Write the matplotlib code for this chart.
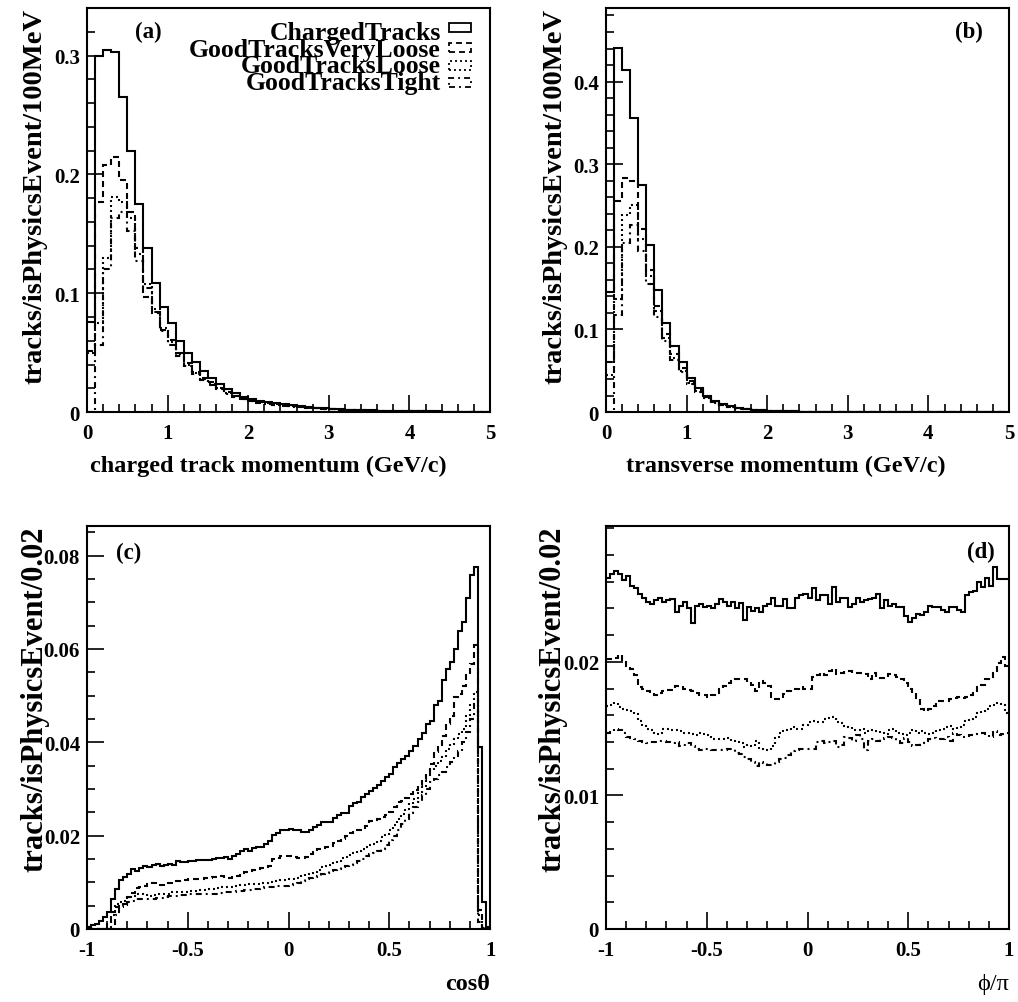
import numpy as np
import matplotlib.pyplot as plt
from matplotlib.patches import Rectangle
from matplotlib.ticker import MultipleLocator, FixedLocator, FuncFormatter

plt.rcParams['font.family'] = ['Liberation Serif', 'DejaVu Serif']
plt.rcParams['font.weight'] = 'bold'
plt.rcParams['lines.scale_dashes'] = False

# ---- data ----
names = ['ChargedTracks', 'GoodTracksVeryLoose', 'GoodTracksLoose', 'GoodTracksTight']

# (a) momentum, 50 bins of 100 MeV in 0..5 GeV/c
a_charged = [0.076, 0.300, 0.305, 0.303, 0.265, 0.220, 0.175, 0.138, 0.109, 0.088,
             0.075, 0.060, 0.0496, 0.0417, 0.0347, 0.029, 0.024, 0.019, 0.0157, 0.0129,
             0.0109, 0.0095, 0.0081, 0.0073, 0.0064, 0.0056, 0.0048, 0.0042, 0.0036, 0.0031,
             0.0027, 0.0023, 0.0020, 0.0017, 0.0015, 0.0013, 0.0011, 0.0010, 0.0009, 0.0008,
             0.0007, 0.0006, 0.0005, 0.0005, 0.0004, 0.0004, 0.0003, 0.0003, 0.0003, 0.0002]
a_vloose = [0.0515, 0.177, 0.208, 0.2145, 0.195, 0.168, 0.138, 0.097, 0.083, 0.069,
            0.061, 0.050, 0.0415, 0.034, 0.029, 0.025, 0.0205, 0.0165, 0.0138, 0.0113,
            0.0096, 0.0084, 0.0072, 0.0064, 0.0056, 0.0049, 0.0042, 0.0037, 0.0032, 0.0027,
            0.0024, 0.0020, 0.0018, 0.0015, 0.0013, 0.0011, 0.0010, 0.0009, 0.0008, 0.0007,
            0.0006, 0.0005, 0.0005, 0.0004, 0.0004, 0.0003, 0.0003, 0.0003, 0.0002, 0.0002]
a_loose = [0.050, 0.075, 0.130, 0.181, 0.177, 0.163, 0.133, 0.108, 0.087, 0.071,
           0.059, 0.049, 0.040, 0.033, 0.028, 0.024, 0.020, 0.016, 0.0134, 0.011,
           0.0094, 0.0082, 0.0070, 0.0062, 0.0054, 0.0047, 0.0041, 0.0036, 0.0031, 0.0026,
           0.0023, 0.0019, 0.0017, 0.0014, 0.0012, 0.0011, 0.0009, 0.0008, 0.0007, 0.0006,
           0.0006, 0.0005, 0.0004, 0.0004, 0.0003, 0.0003, 0.0003, 0.0002, 0.0002, 0.0002]
a_tight = [0.0, 0.056, 0.120, 0.163, 0.168, 0.152, 0.127, 0.104, 0.084, 0.068,
           0.056, 0.047, 0.039, 0.032, 0.027, 0.023, 0.019, 0.0155, 0.013, 0.0107,
           0.0091, 0.0080, 0.0068, 0.0060, 0.0053, 0.0046, 0.0040, 0.0035, 0.0030, 0.0026,
           0.0022, 0.0019, 0.0016, 0.0014, 0.0012, 0.0010, 0.0009, 0.0008, 0.0007, 0.0006,
           0.0005, 0.0005, 0.0004, 0.0004, 0.0003, 0.0003, 0.0002, 0.0002, 0.0002, 0.0002]

# (b) transverse momentum, 50 bins in 0..5 GeV/c
b_charged = [0.145, 0.441, 0.414, 0.356, 0.275, 0.202, 0.148, 0.1075, 0.080, 0.060,
             0.041, 0.0287, 0.0198, 0.0137, 0.0095, 0.0068, 0.0050, 0.0037, 0.0028, 0.0021,
             0.0016, 0.0012, 0.0010, 0.0008, 0.0006, 0.0005, 0.0004, 0.0003, 0.0003, 0.0002,
             0.0002, 0.0002, 0.0001, 0.0001, 0.0001, 0.0001, 0.0001, 0.0001, 0.0001, 0.0001,
             0.0001, 0.0001, 0.0001, 0.0001, 0.0001, 0.0001, 0.0001, 0.0001, 0.0001, 0.0001]
b_vloose = [0.060, 0.255, 0.283, 0.280, 0.222, 0.172, 0.128, 0.095, 0.070, 0.053,
            0.037, 0.0265, 0.0182, 0.0126, 0.0088, 0.0063, 0.0046, 0.0034, 0.0026, 0.0019,
            0.0015, 0.0011, 0.0009, 0.0007, 0.0006, 0.0005, 0.0004, 0.0003, 0.0003, 0.0002,
            0.0002, 0.0002, 0.0001, 0.0001, 0.0001, 0.0001, 0.0001, 0.0001, 0.0001, 0.0001,
            0.0001, 0.0001, 0.0001, 0.0001, 0.0001, 0.0001, 0.0001, 0.0001, 0.0001, 0.0001]
b_loose = [0.045, 0.137, 0.238, 0.250, 0.210, 0.165, 0.122, 0.090, 0.066, 0.050,
           0.035, 0.025, 0.0172, 0.012, 0.0084, 0.0060, 0.0044, 0.0033, 0.0025, 0.0018,
           0.0014, 0.0011, 0.0008, 0.0007, 0.0006, 0.0005, 0.0004, 0.0003, 0.0003, 0.0002,
           0.0002, 0.0002, 0.0001, 0.0001, 0.0001, 0.0001, 0.0001, 0.0001, 0.0001, 0.0001,
           0.0001, 0.0001, 0.0001, 0.0001, 0.0001, 0.0001, 0.0001, 0.0001, 0.0001, 0.0001]
b_tight = [0.0, 0.117, 0.205, 0.226, 0.195, 0.155, 0.115, 0.086, 0.063, 0.048,
           0.034, 0.024, 0.0165, 0.0115, 0.0080, 0.0057, 0.0042, 0.0031, 0.0024, 0.0017,
           0.0013, 0.0010, 0.0008, 0.0006, 0.0005, 0.0004, 0.0004, 0.0003, 0.0002, 0.0002,
           0.0002, 0.0001, 0.0001, 0.0001, 0.0001, 0.0001, 0.0001, 0.0001, 0.0001, 0.0001,
           0.0001, 0.0001, 0.0001, 0.0001, 0.0001, 0.0001, 0.0001, 0.0001, 0.0001, 0.0001]

# (c) cos(theta), 100 bins in -1..1
c_charged = [0.0005, 0.0008, 0.0011, 0.0018, 0.0025, 0.0036, 0.0064, 0.0086, 0.0104, 0.0111,
             0.0118, 0.0129, 0.0125, 0.0130, 0.0134, 0.0132, 0.0136, 0.0139, 0.0134, 0.0138,
             0.0139, 0.0136, 0.0146, 0.0143, 0.0144, 0.0146, 0.0146, 0.0147, 0.0148, 0.0148,
             0.0148, 0.0150, 0.0152, 0.0152, 0.0155, 0.0150, 0.0157, 0.0161, 0.0166, 0.0171,
             0.0166, 0.0173, 0.0175, 0.0175, 0.0182, 0.0189, 0.0201, 0.0206, 0.0211, 0.0211,
             0.0214, 0.0213, 0.0211, 0.0208, 0.0208, 0.0213, 0.0218, 0.0223, 0.0229, 0.0230,
             0.0230, 0.0237, 0.0244, 0.0248, 0.0248, 0.0264, 0.0270, 0.0273, 0.0282, 0.0290,
             0.0296, 0.0303, 0.0309, 0.0316, 0.0325, 0.0332, 0.0346, 0.0355, 0.0364, 0.0371,
             0.0382, 0.0393, 0.0407, 0.0420, 0.0439, 0.0446, 0.0479, 0.0489, 0.0534, 0.0556,
             0.0572, 0.0600, 0.0638, 0.0657, 0.0709, 0.0759, 0.0775, 0.0389, 0.0058, 0.0004]
c_vloose = [0.0, 0.0, 0.0, 0.0, 0.0, 0.0012, 0.0036, 0.0047, 0.0050, 0.0054,
            0.0068, 0.0078, 0.0087, 0.0089, 0.0092, 0.0096, 0.0099, 0.0097, 0.0094, 0.0097,
            0.0099, 0.0101, 0.0102, 0.0104, 0.0106, 0.0107, 0.0107, 0.0107, 0.0108, 0.0109,
            0.0109, 0.0111, 0.0112, 0.0114, 0.0110, 0.0109, 0.0112, 0.0114, 0.0119, 0.0122,
            0.0125, 0.0126, 0.0128, 0.0130, 0.0132, 0.0134, 0.0150, 0.0152, 0.0156, 0.0156,
            0.0156, 0.0155, 0.0153, 0.0153, 0.0155, 0.0161, 0.0165, 0.0171, 0.0173, 0.0175,
            0.0178, 0.0184, 0.0188, 0.0193, 0.0200, 0.0206, 0.0211, 0.0212, 0.0213, 0.0220,
            0.0232, 0.0234, 0.0236, 0.0239, 0.0245, 0.0250, 0.0262, 0.0271, 0.0275, 0.0280,
            0.0289, 0.0298, 0.0307, 0.0320, 0.0335, 0.0354, 0.0379, 0.0395, 0.0414, 0.0439,
            0.0457, 0.0497, 0.0504, 0.0520, 0.0545, 0.0568, 0.0608, 0.0040, 0.0003, 0.0]
c_loose = [0.0, 0.0, 0.0, 0.0, 0.0, 0.0, 0.0030, 0.0054, 0.0057, 0.0060,
           0.0066, 0.0071, 0.0075, 0.0075, 0.0073, 0.0071, 0.0073, 0.0075, 0.0075, 0.0075,
           0.0076, 0.0079, 0.0079, 0.0080, 0.0080, 0.0082, 0.0082, 0.0083, 0.0084, 0.0084,
           0.0086, 0.0086, 0.0087, 0.0089, 0.0089, 0.0091, 0.0091, 0.0092, 0.0094, 0.0094,
           0.0096, 0.0096, 0.0097, 0.0098, 0.0099, 0.0100, 0.0101, 0.0102, 0.0104, 0.0105,
           0.0107, 0.0108, 0.0110, 0.0114, 0.0117, 0.0120, 0.0123, 0.0127, 0.0132, 0.0135,
           0.0138, 0.0141, 0.0146, 0.0151, 0.0155, 0.0159, 0.0163, 0.0167, 0.0171, 0.0175,
           0.0179, 0.0182, 0.0188, 0.0196, 0.0203, 0.0211, 0.0223, 0.0236, 0.0246, 0.0257,
           0.0268, 0.0279, 0.0293, 0.0307, 0.0329, 0.0340, 0.0350, 0.0359, 0.0368, 0.0386,
           0.0396, 0.0407, 0.0418, 0.0429, 0.0457, 0.0482, 0.0507, 0.0030, 0.0005, 0.0]
c_tight = [0.0, 0.0, 0.0, 0.0, 0.0, 0.0, 0.0, 0.0030, 0.0047, 0.0052,
           0.0057, 0.0060, 0.0064, 0.0064, 0.0064, 0.0064, 0.0065, 0.0066, 0.0067, 0.0068,
           0.0070, 0.0071, 0.0071, 0.0072, 0.0073, 0.0075, 0.0075, 0.0075, 0.0075, 0.0075,
           0.0075, 0.0076, 0.0076, 0.0077, 0.0079, 0.0079, 0.0080, 0.0081, 0.0082, 0.0083,
           0.0084, 0.0085, 0.0086, 0.0087, 0.0089, 0.0090, 0.0091, 0.0092, 0.0093, 0.0093,
           0.0095, 0.0097, 0.0099, 0.0102, 0.0107, 0.0109, 0.0111, 0.0114, 0.0118, 0.0121,
           0.0124, 0.0127, 0.0129, 0.0132, 0.0134, 0.0138, 0.0142, 0.0146, 0.0150, 0.0156,
           0.0160, 0.0163, 0.0166, 0.0172, 0.0179, 0.0190, 0.0200, 0.0212, 0.0224, 0.0236,
           0.0248, 0.0261, 0.0273, 0.0286, 0.0300, 0.0314, 0.0321, 0.0329, 0.0336, 0.0347,
           0.0357, 0.0370, 0.0382, 0.0400, 0.0421, 0.0450, 0.0482, 0.0015, 0.0003, 0.0]

# (d) phi/pi, 100 bins in -1..1
d_charged = [0.0263, 0.0266, 0.0268, 0.0266, 0.0261, 0.0264, 0.0257, 0.0255, 0.0251, 0.0248,
             0.0245, 0.0243, 0.0246, 0.0248, 0.0245, 0.0246, 0.0247, 0.0237, 0.0242, 0.0245,
             0.0240, 0.0229, 0.0242, 0.0243, 0.0241, 0.0242, 0.0240, 0.0243, 0.0247, 0.0245,
             0.0242, 0.0245, 0.0240, 0.0244, 0.0231, 0.0241, 0.0238, 0.0240, 0.0237, 0.0242,
             0.0243, 0.0248, 0.0242, 0.0242, 0.0247, 0.0240, 0.0240, 0.0248, 0.0250, 0.0251,
             0.0248, 0.0255, 0.0246, 0.0250, 0.0250, 0.0243, 0.0256, 0.0245, 0.0248, 0.0248,
             0.0241, 0.0243, 0.0248, 0.0245, 0.0246, 0.0247, 0.0248, 0.0251, 0.0240, 0.0246,
             0.0242, 0.0243, 0.0241, 0.0241, 0.0234, 0.0230, 0.0233, 0.0236, 0.0235, 0.0237,
             0.0242, 0.0241, 0.0241, 0.0239, 0.0237, 0.0241, 0.0241, 0.0239, 0.0237, 0.0250,
             0.0252, 0.0253, 0.0260, 0.0256, 0.0263, 0.0257, 0.0271, 0.0262, 0.0262, 0.0262]
d_vloose = [0.0202, 0.0202, 0.0203, 0.0205, 0.0200, 0.0197, 0.0195, 0.0190, 0.0181, 0.0180,
            0.0178, 0.0177, 0.0175, 0.0177, 0.0178, 0.0179, 0.0179, 0.0182, 0.0182, 0.0180,
            0.0179, 0.0178, 0.0177, 0.0175, 0.0175, 0.0174, 0.0175, 0.0177, 0.0180, 0.0182,
            0.0184, 0.0186, 0.0187, 0.0187, 0.0187, 0.0185, 0.0183, 0.0178, 0.0186, 0.0184,
            0.0182, 0.0172, 0.0172, 0.0172, 0.0176, 0.0178, 0.0179, 0.0180, 0.0181, 0.0180,
            0.0180, 0.0189, 0.0190, 0.0192, 0.0190, 0.0193, 0.0195, 0.0191, 0.0192, 0.0193,
            0.0193, 0.0192, 0.0192, 0.0192, 0.0191, 0.0187, 0.0192, 0.0189, 0.0188, 0.0188,
            0.0191, 0.0190, 0.0189, 0.0187, 0.0184, 0.0180, 0.0177, 0.0173, 0.0165, 0.0163,
            0.0165, 0.0167, 0.0171, 0.0171, 0.0171, 0.0172, 0.0173, 0.0174, 0.0173, 0.0174,
            0.0175, 0.0177, 0.0181, 0.0183, 0.0187, 0.0189, 0.0192, 0.0199, 0.0204, 0.0197]
d_loose = [0.0167, 0.0168, 0.0169, 0.0166, 0.0165, 0.0164, 0.0163, 0.0161, 0.0156, 0.0152,
           0.0150, 0.0149, 0.0146, 0.0147, 0.0150, 0.0150, 0.0149, 0.0149, 0.0148, 0.0147,
           0.0147, 0.0146, 0.0145, 0.0147, 0.0146, 0.0145, 0.0142, 0.0142, 0.0142, 0.0142,
           0.0143, 0.0141, 0.0140, 0.0139, 0.0136, 0.0138, 0.0137, 0.0141, 0.0135, 0.0134,
           0.0134, 0.0137, 0.0143, 0.0147, 0.0148, 0.0149, 0.0151, 0.0150, 0.0150, 0.0153,
           0.0155, 0.0156, 0.0155, 0.0155, 0.0157, 0.0158, 0.0159, 0.0155, 0.0154, 0.0152,
           0.0151, 0.0149, 0.0149, 0.0150, 0.0147, 0.0149, 0.0149, 0.0148, 0.0147, 0.0146,
           0.0149, 0.0150, 0.0147, 0.0146, 0.0145, 0.0147, 0.0149, 0.0147, 0.0148, 0.0147,
           0.0146, 0.0147, 0.0149, 0.0150, 0.0151, 0.0152, 0.0150, 0.0151, 0.0153, 0.0156,
           0.0157, 0.0159, 0.0162, 0.0163, 0.0165, 0.0167, 0.0168, 0.0169, 0.0168, 0.0162]
d_tight = [0.0147, 0.0148, 0.0150, 0.0149, 0.0147, 0.0144, 0.0143, 0.0142, 0.0141, 0.0140,
           0.0139, 0.0140, 0.0140, 0.0141, 0.0141, 0.0140, 0.0139, 0.0140, 0.0137, 0.0138,
           0.0139, 0.0137, 0.0135, 0.0134, 0.0135, 0.0135, 0.0134, 0.0134, 0.0134, 0.0134,
           0.0135, 0.0135, 0.0132, 0.0131, 0.0129, 0.0127, 0.0125, 0.0122, 0.0125, 0.0124,
           0.0123, 0.0123, 0.0125, 0.0127, 0.0128, 0.0130, 0.0133, 0.0134, 0.0135, 0.0135,
           0.0135, 0.0135, 0.0140, 0.0141, 0.0139, 0.0140, 0.0141, 0.0136, 0.0138, 0.0144,
           0.0143, 0.0141, 0.0145, 0.0142, 0.0134, 0.0141, 0.0142, 0.0141, 0.0142, 0.0143,
           0.0144, 0.0143, 0.0141, 0.0139, 0.0143, 0.0140, 0.0137, 0.0138, 0.0139, 0.0141,
           0.0142, 0.0143, 0.0142, 0.0142, 0.0144, 0.0141, 0.0147, 0.0145, 0.0144, 0.0144,
           0.0145, 0.0146, 0.0147, 0.0147, 0.0145, 0.0144, 0.0148, 0.0145, 0.0146, 0.0147]

# ---- drawing ----
styles = ['-', (0, (4.3, 2.9)), (0, (1.4, 2.2)), (0, (4.3, 2.9, 1.4, 2.9))]

fig = plt.figure(figsize=(10.18, 10.03), dpi=100)
W, H = 0.3959, 0.4028
ax_a = fig.add_axes([0.0855, 0.5882, W, H])
ax_b = fig.add_axes([0.5953, 0.5882, W, H])
ax_c = fig.add_axes([0.0855, 0.0728, W, 0.4021])
ax_d = fig.add_axes([0.5953, 0.0728, W, 0.4021])

fmt = FuncFormatter(lambda v, pos: f'{v:g}')


def hist(ax, edges, series):
    for vals, ls in zip(series, styles):
        ax.stairs(vals, edges, baseline=None, color='k', lw=1.5, linestyle=ls)


def style(ax, xmaj, xmin, ymaj, ymin):
    ax.xaxis.set_major_locator(MultipleLocator(xmaj))
    ax.xaxis.set_minor_locator(MultipleLocator(xmin))
    ax.yaxis.set_major_locator(FixedLocator(ymaj))
    ax.yaxis.set_minor_locator(MultipleLocator(ymin))
    ax.xaxis.set_major_formatter(fmt)
    ax.yaxis.set_major_formatter(fmt)
    ax.tick_params(which='both', direction='in', top=False, right=False, width=1.2)
    ax.tick_params(which='major', length=12, labelsize=15)
    ax.tick_params(axis='x', which='major', pad=8)
    ax.tick_params(axis='y', which='major', pad=5)
    ax.tick_params(which='minor', length=6)
    for s in ax.spines.values():
        s.set_linewidth(1.5)


p_edges = np.linspace(0, 5, 51)
a_edges = np.linspace(-1, 1, 101)

hist(ax_a, p_edges, [a_charged, a_vloose, a_loose, a_tight])
ax_a.set_xlim(0, 5)
ax_a.set_ylim(0, 0.34)
style(ax_a, 1, 0.2, [0, 0.1, 0.2, 0.3], 0.02)

hist(ax_b, p_edges, [b_charged, b_vloose, b_loose, b_tight])
ax_b.set_xlim(0, 5)
ax_b.set_ylim(0, 0.489)
style(ax_b, 1, 0.2, [0, 0.1, 0.2, 0.3, 0.4], 0.02)

hist(ax_c, a_edges, [c_charged, c_vloose, c_loose, c_tight])
ax_c.set_xlim(-1, 1)
ax_c.set_ylim(0, 0.0864)
style(ax_c, 0.5, 0.1, [0, 0.02, 0.04, 0.06, 0.08], 0.005)

hist(ax_d, a_edges, [d_charged, d_vloose, d_loose, d_tight])
ax_d.set_xlim(-1, 1)
ax_d.set_ylim(0, 0.0302)
style(ax_d, 0.5, 0.1, [0, 0.01, 0.02], 0.002)

# axis titles
tsize = 17.5
ax_a.text(0.449, -0.131, 'charged track momentum (GeV/c)', transform=ax_a.transAxes,
          ha='center', va='center', fontsize=tsize)
ax_b.text(0.447, -0.131, 'transverse momentum (GeV/c)', transform=ax_b.transAxes,
          ha='center', va='center', fontsize=tsize)
ax_c.text(1.0, -0.136, 'cosθ', transform=ax_c.transAxes,
          ha='right', va='center', fontsize=tsize)
ax_d.text(1.0, -0.136, 'ϕ/π', transform=ax_d.transAxes,
          ha='right', va='center', fontsize=tsize, fontweight='normal')
for ax, lab, xo, fs in [(ax_a, 'tracks/isPhysicsEvent/100MeV', -0.129, 20.5),
                        (ax_b, 'tracks/isPhysicsEvent/100MeV', -0.127, 20.5),
                        (ax_c, 'tracks/isPhysicsEvent/0.02', -0.129, 22),
                        (ax_d, 'tracks/isPhysicsEvent/0.02', -0.131, 22)]:
    ax.text(xo, 1.0, lab, transform=ax.transAxes, rotation=90,
            ha='center', va='top', fontsize=fs)

# panel tags
ax_a.text(0.119, 0.929, '(a)', transform=ax_a.transAxes, fontsize=16.5, va='baseline')
ax_b.text(0.866, 0.929, '(b)', transform=ax_b.transAxes, fontsize=16.5, va='baseline')
ax_c.text(0.072, 0.920, '(c)', transform=ax_c.transAxes, fontsize=16.5, va='baseline')
ax_d.text(0.896, 0.9225, '(d)', transform=ax_d.transAxes, fontsize=16.5, va='baseline')

# legend in (a)
base_px = [40, 56.7, 73.4, 90.1]
box_top_px = [24.3, 44, 62, 79]
for name, ls, yb, bt in zip(names, styles, base_px, box_top_px):
    yf = 1 - (yb - 9.3) / 403.2
    ax_a.text(0.878, yf, name, transform=ax_a.transAxes, ha='right', va='baseline',
              fontsize=18.5)
    top = 1 - (bt - 9.3) / 403.2
    ax_a.add_patch(Rectangle((0.898, top - 0.023), 0.0546, 0.023, transform=ax_a.transAxes,
                             fill=False, edgecolor='k', lw=1.3, linestyle=ls))

fig.savefig('out.png', dpi=100)
